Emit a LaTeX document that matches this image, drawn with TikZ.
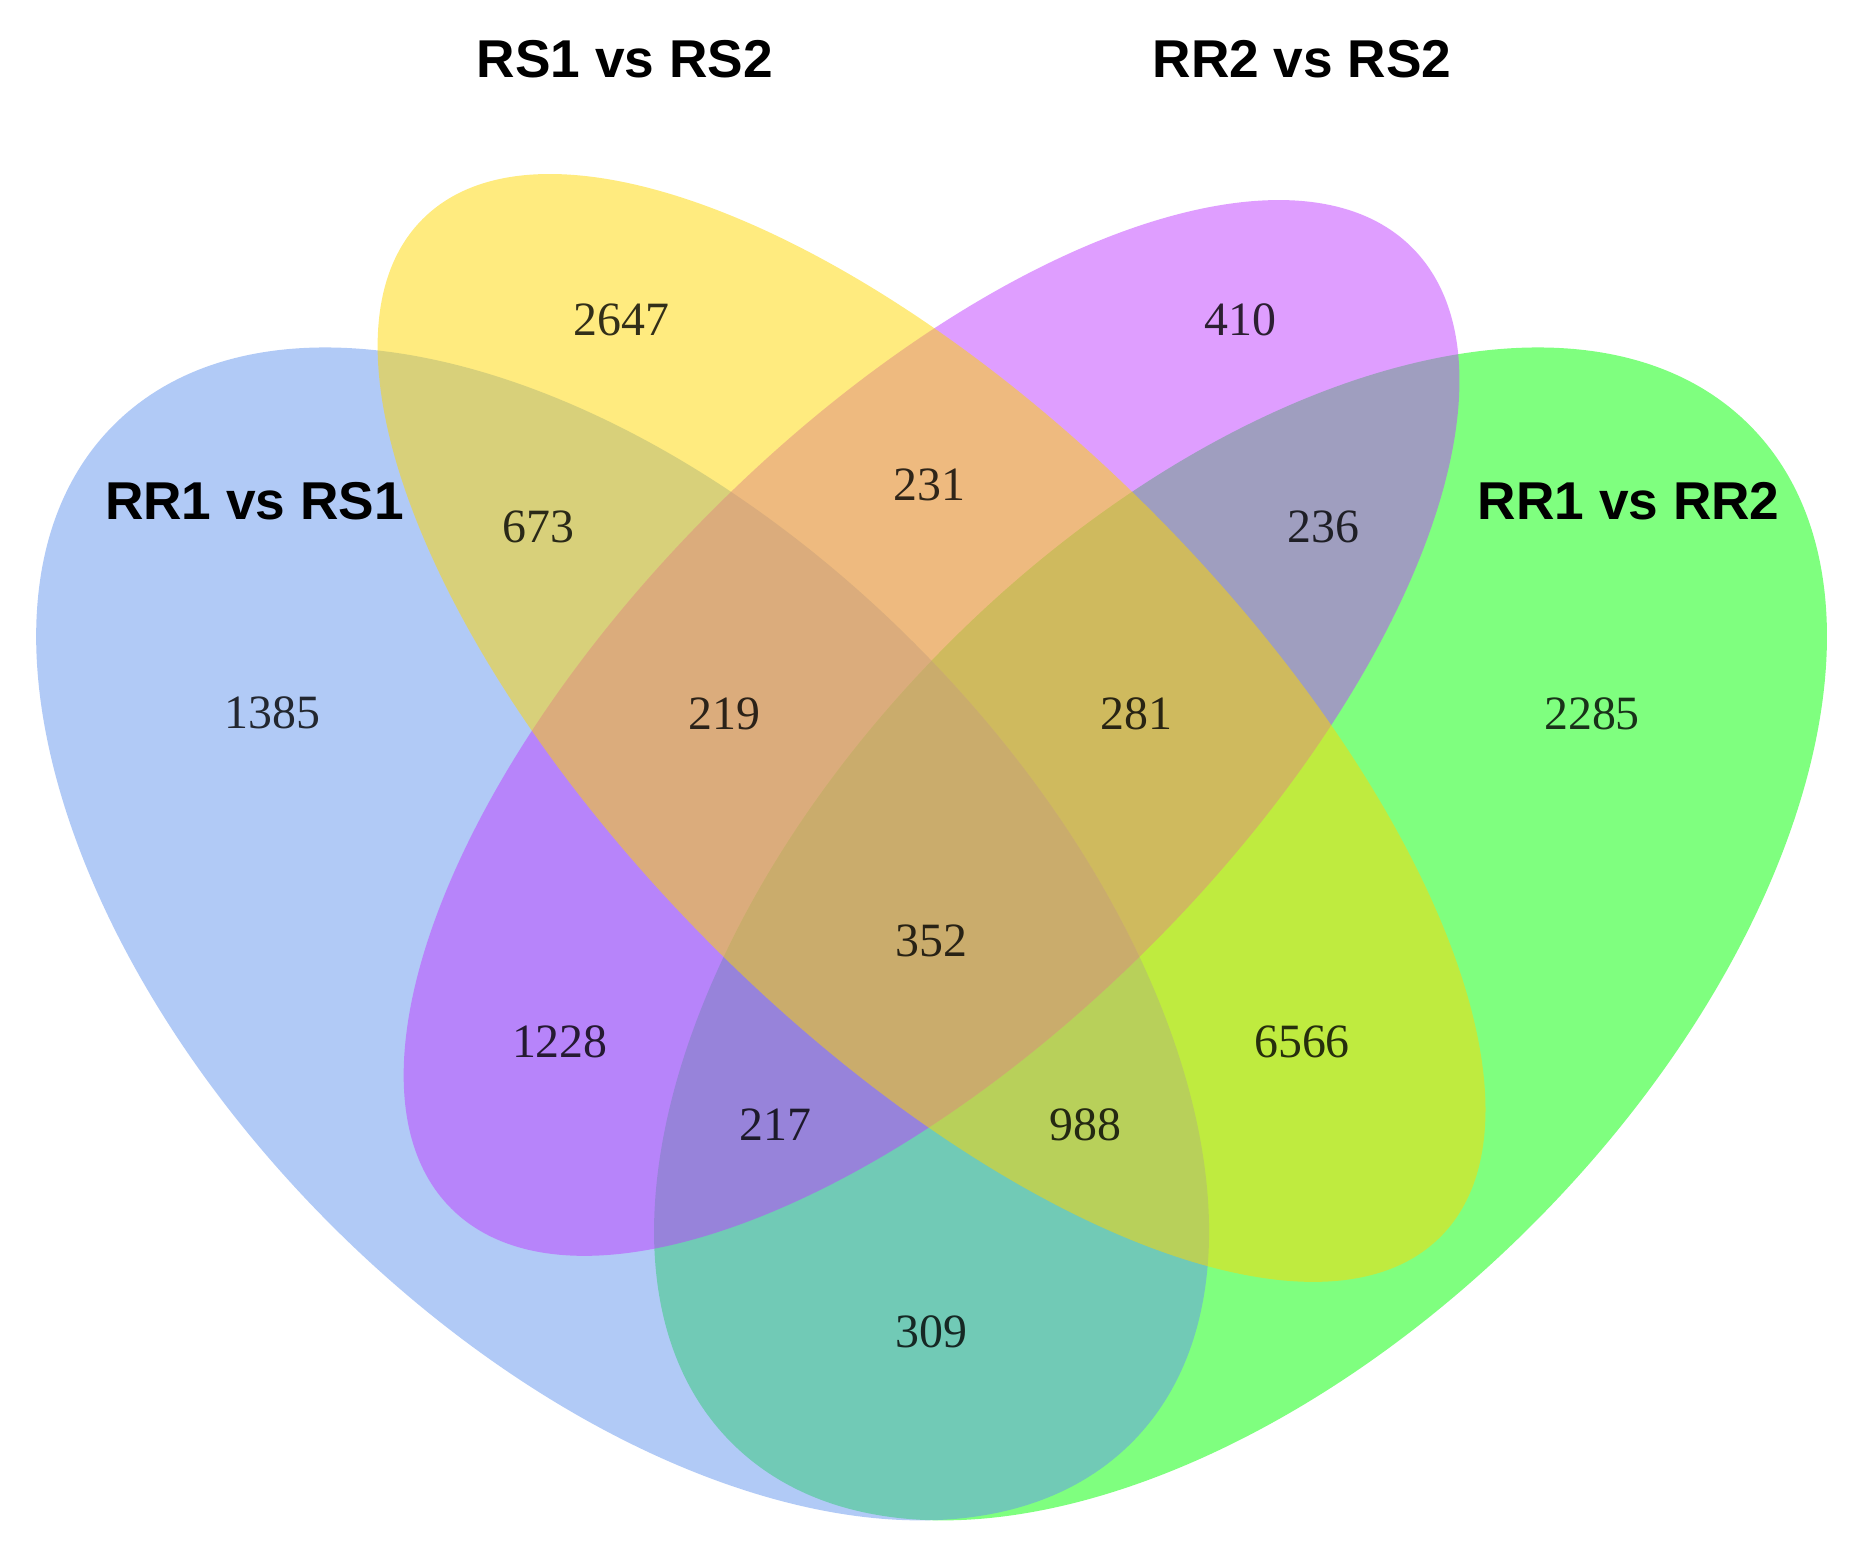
\documentclass[tikz,border=0pt]{standalone}
\usepackage{fontspec}
\setmainfont{Liberation Serif}
\newfontfamily\labelfont{Liberation Sans}
\usetikzlibrary{positioning}

\definecolor{setRRRS}{RGB}{100,149,237}
\definecolor{setRSRS}{RGB}{255,215,0}
\definecolor{setRRS}{RGB}{191,62,255}
\definecolor{setRRRR}{RGB}{0,255,0}

\begin{document}
\begin{tikzpicture}
  [every node/.style={inner sep=0pt},
   num/.style={font=\fontsize{11.5}{13}\selectfont, text=black, text opacity=.8},
   setname/.style={font=\labelfont\bfseries\fontsize{12.8}{15}\selectfont}]
  \useasboundingbox (0,0) rectangle (15.68,13.19);
  % the four sets, back to front
  \begin{scope}[fill opacity=.5]
    \fill[setRRRR, rotate around={45:(10.48,5.30)}] (10.48,5.30) ellipse (6.08 and 3.48);
    \fill[setRRRS, rotate around={-45:(5.26,5.30)}] (5.26,5.30) ellipse (6.08 and 3.48);
    \fill[setRRS, rotate around={45:(7.87,7.04)}] (7.87,7.04) ellipse (5.74 and 2.61);
    \fill[setRSRS, rotate around={-45:(7.87,7.04)}] (7.87,7.04) ellipse (6.08 and 2.61);
  \end{scope}
  \node[setname] (rs1rs2) at (5.28,12.69) {RS1 vs RS2};
  \node[setname] (rr2rs2) at (11.00,12.69) {RR2 vs RS2};
  \node[setname] (rr1rs1) at (2.15,8.96) {RR1 vs RS1};
  \node[setname] (rr1rr2) at (13.76,8.96) {RR1 vs RR2};
  \foreach \name/\x/\y/\n in {a/5.25/10.49/2647, d/10.48/10.49/410,
      ab/4.55/8.74/673, bd/7.85/9.09/231, cd/11.18/8.74/236,
      a1/2.30/7.17/1385, abd/6.12/7.16/219, bcd/9.60/7.16/281, c/13.45/7.16/2285,
      abcd/7.87/5.24/352, ad/4.73/4.39/1228, bc/11.00/4.39/6566,
      acd/6.55/3.69/217, abc/9.17/3.69/988, ac/7.87/1.94/309}
    \node[num] (n\name) at (\x,\y) {\n};
\end{tikzpicture}
\end{document}
